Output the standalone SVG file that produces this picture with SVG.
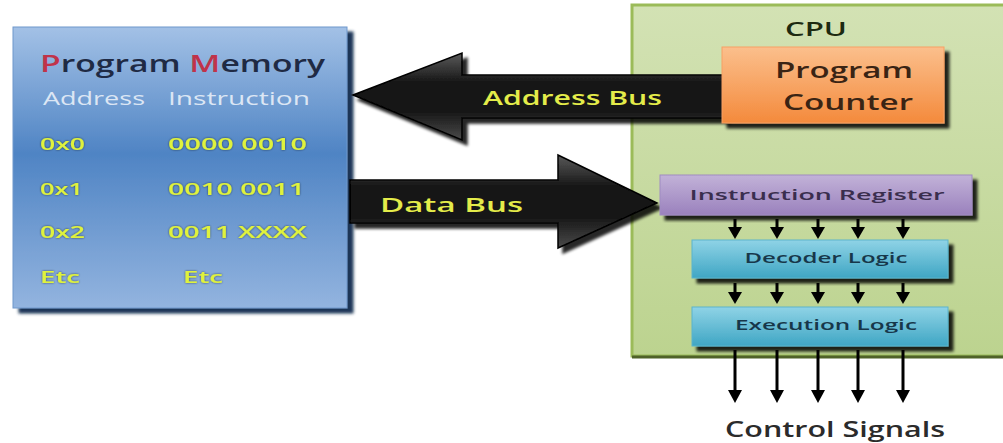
<svg xmlns="http://www.w3.org/2000/svg" width="1003" height="443" viewBox="0 0 1003 443">
  <defs>
    <linearGradient id="memFill" x1="0" y1="0" x2="0" y2="1">
      <stop offset="0" stop-color="#a3c1e6"/>
      <stop offset="0.45" stop-color="#4f84c4"/>
      <stop offset="1" stop-color="#93b4df"/>
    </linearGradient>
    <linearGradient id="cpuFill" x1="0" y1="0" x2="0" y2="1">
      <stop offset="0" stop-color="#d3e2b4"/>
      <stop offset="1" stop-color="#bcd38f"/>
    </linearGradient>
    <linearGradient id="pcFill" x1="0" y1="0" x2="0" y2="1">
      <stop offset="0" stop-color="#fbbf8c"/>
      <stop offset="1" stop-color="#f48a3c"/>
    </linearGradient>
    <linearGradient id="irFill" x1="0" y1="0" x2="0" y2="1">
      <stop offset="0" stop-color="#c2b2d8"/>
      <stop offset="1" stop-color="#9a81bd"/>
    </linearGradient>
    <linearGradient id="logicFill" x1="0" y1="0" x2="0" y2="1">
      <stop offset="0" stop-color="#8fd3e6"/>
      <stop offset="1" stop-color="#3fa6c4"/>
    </linearGradient>
    <linearGradient id="busFill" x1="0" y1="0" x2="0" y2="1">
      <stop offset="0" stop-color="#5a5a5a"/>
      <stop offset="0.35" stop-color="#141414"/>
      <stop offset="0.65" stop-color="#141414"/>
      <stop offset="1" stop-color="#4a4a4a"/>
    </linearGradient>
    <filter id="shadow" x="-10%" y="-10%" width="130%" height="130%">
      <feGaussianBlur in="SourceAlpha" stdDeviation="1.5"/>
      <feOffset dx="5" dy="5" result="off"/>
      <feComponentTransfer><feFuncA type="linear" slope="0.85"/></feComponentTransfer>
      <feMerge><feMergeNode/><feMergeNode in="SourceGraphic"/></feMerge>
    </filter>
    <filter id="navyShadow" x="-10%" y="-10%" width="130%" height="130%">
      <feFlood flood-color="#1c3557"/>
      <feComposite in2="SourceAlpha" operator="in"/>
      <feGaussianBlur stdDeviation="1.5"/>
      <feOffset dx="6" dy="5"/>
      <feMerge><feMergeNode/><feMergeNode in="SourceGraphic"/></feMerge>
    </filter>
    <filter id="glow" x="-10%" y="-30%" width="120%" height="160%">
      <feGaussianBlur in="SourceAlpha" stdDeviation="1.2"/>
      <feComponentTransfer><feFuncA type="linear" slope="0.6"/></feComponentTransfer>
      <feMerge><feMergeNode/><feMergeNode in="SourceGraphic"/></feMerge>
    </filter>
  </defs>
  <style>
    text { font-family: "Open Sans", "Liberation Sans", sans-serif; }
    .mem { fill: #dff23c; font-size: 17px; font-weight: 600; }
    .hdr { fill: #dce6f4; font-size: 18px; }
    .bus { fill: #e4ec4a; font-size: 20px; font-weight: 600; }
    .sig { stroke: #000; stroke-width: 3; fill: none; }
    .tip { fill: #000; }
  </style>

  <!-- program memory -->
  <g id="program-memory">
    <rect x="13" y="27" width="334" height="281" fill="url(#memFill)" stroke="#6f98cc" stroke-width="1" filter="url(#navyShadow)"/>
    <text x="40" y="72" font-size="24" font-weight="600" textLength="285" lengthAdjust="spacingAndGlyphs" fill="#1f2a44"><tspan fill="#c0334a">P</tspan>rogram <tspan fill="#c0334a">M</tspan>emory</text>
    <text class="hdr" x="43" y="105" textLength="102" lengthAdjust="spacingAndGlyphs">Address</text>
    <text class="hdr" x="168" y="105" textLength="142" lengthAdjust="spacingAndGlyphs">Instruction</text>
    <g filter="url(#glow)">
      <text class="mem" x="40" y="150" textLength="45" lengthAdjust="spacingAndGlyphs">0x0</text>
      <text class="mem" x="168" y="150" textLength="139" lengthAdjust="spacingAndGlyphs">0000 0010</text>
      <text class="mem" x="40" y="195" textLength="43" lengthAdjust="spacingAndGlyphs">0x1</text>
      <text class="mem" x="168" y="195" textLength="137" lengthAdjust="spacingAndGlyphs">0010 0011</text>
      <text class="mem" x="40" y="238" textLength="45" lengthAdjust="spacingAndGlyphs">0x2</text>
      <text class="mem" x="168" y="238" textLength="139" lengthAdjust="spacingAndGlyphs">0011 XXXX</text>
      <text class="mem" x="40" y="283" textLength="40" lengthAdjust="spacingAndGlyphs">Etc</text>
      <text class="mem" x="183" y="283" textLength="40" lengthAdjust="spacingAndGlyphs">Etc</text>
    </g>
  </g>

  <!-- CPU container -->
  <g id="cpu">
    <rect x="632" y="5" width="380" height="351" fill="url(#cpuFill)" stroke="#9bbb59" stroke-width="3"/>
    <line x1="632" y1="357" x2="1003" y2="357" stroke="#4f6228" stroke-width="3"/>
    <text x="816" y="36" font-size="19" font-weight="600" text-anchor="middle" fill="#1d2a10" textLength="62" lengthAdjust="spacingAndGlyphs">CPU</text>
  </g>

  <!-- buses -->
  <g id="address-bus">
    <path d="M353,95 L462,53 L462,75 L725,75 L725,118 L462,118 L462,140 Z" fill="url(#busFill)" stroke="#000" stroke-width="1.5" filter="url(#shadow)"/>
    <text class="bus" x="483" y="105" textLength="179" lengthAdjust="spacingAndGlyphs">Address Bus</text>
  </g>
  <g id="data-bus">
    <path d="M350,180 L558,180 L558,155 L657,203 L558,248 L558,223 L350,223 Z" fill="url(#busFill)" stroke="#000" stroke-width="1.5" filter="url(#shadow)"/>
    <text class="bus" x="380" y="212" textLength="143" lengthAdjust="spacingAndGlyphs">Data Bus</text>
  </g>

  <g id="program-counter">
    <rect x="722" y="47" width="222" height="76" fill="url(#pcFill)" stroke="#f7a064" stroke-width="1" filter="url(#shadow)"/>
    <text x="844" y="78" font-size="21" font-weight="600" text-anchor="middle" fill="#3a2414" textLength="138" lengthAdjust="spacingAndGlyphs">Program</text>
    <text x="848" y="110" font-size="21" font-weight="600" text-anchor="middle" fill="#3a2414" textLength="130" lengthAdjust="spacingAndGlyphs">Counter</text>
  </g>

  <g id="instruction-register">
    <rect x="660" y="175" width="312" height="40" fill="url(#irFill)" stroke="#a08cc2" stroke-width="1" filter="url(#shadow)"/>
    <text x="817" y="200" font-size="15" font-weight="600" text-anchor="middle" fill="#3a2e4e" textLength="255" lengthAdjust="spacingAndGlyphs">Instruction Register</text>
  </g>

  <g id="decoder-logic">
    <rect x="692" y="240" width="256" height="38" fill="url(#logicFill)" stroke="#5bb4cc" stroke-width="1" filter="url(#shadow)"/>
    <text x="826" y="263" font-size="14" font-weight="600" text-anchor="middle" fill="#17374a" textLength="163" lengthAdjust="spacingAndGlyphs">Decoder Logic</text>
  </g>

  <g id="execution-logic">
    <rect x="692" y="307" width="256" height="39" fill="url(#logicFill)" stroke="#5bb4cc" stroke-width="1" filter="url(#shadow)"/>
    <text x="826" y="330" font-size="14" font-weight="600" text-anchor="middle" fill="#17374a" textLength="182" lengthAdjust="spacingAndGlyphs">Execution Logic</text>
  </g>

  <!-- signal lines between stages -->
  <g id="connectors">
    <g class="sig">
      <line x1="735" y1="219" x2="735" y2="230"/>
      <line x1="777" y1="219" x2="777" y2="230"/>
      <line x1="818" y1="219" x2="818" y2="230"/>
      <line x1="858" y1="219" x2="858" y2="230"/>
      <line x1="903" y1="219" x2="903" y2="230"/>
      <line x1="735" y1="283" x2="735" y2="294"/>
      <line x1="777" y1="283" x2="777" y2="294"/>
      <line x1="818" y1="283" x2="818" y2="294"/>
      <line x1="858" y1="283" x2="858" y2="294"/>
      <line x1="903" y1="283" x2="903" y2="294"/>
      <line x1="735" y1="350" x2="735" y2="392"/>
      <line x1="777" y1="350" x2="777" y2="392"/>
      <line x1="818" y1="350" x2="818" y2="392"/>
      <line x1="858" y1="350" x2="858" y2="392"/>
      <line x1="903" y1="350" x2="903" y2="392"/>
    </g>
    <g class="tip">
      <path d="M728,227 L742,227 L735,239 Z"/>
      <path d="M770,227 L784,227 L777,239 Z"/>
      <path d="M811,227 L825,227 L818,239 Z"/>
      <path d="M851,227 L865,227 L858,239 Z"/>
      <path d="M896,227 L910,227 L903,239 Z"/>
      <path d="M728,292 L742,292 L735,304 Z"/>
      <path d="M770,292 L784,292 L777,304 Z"/>
      <path d="M811,292 L825,292 L818,304 Z"/>
      <path d="M851,292 L865,292 L858,304 Z"/>
      <path d="M896,292 L910,292 L903,304 Z"/>
      <path d="M728,390 L742,390 L735,403 Z"/>
      <path d="M770,390 L784,390 L777,403 Z"/>
      <path d="M811,390 L825,390 L818,403 Z"/>
      <path d="M851,390 L865,390 L858,403 Z"/>
      <path d="M896,390 L910,390 L903,403 Z"/>
    </g>
  </g>

  <g id="control-signals">
    <text x="835" y="437" font-size="22" font-weight="600" text-anchor="middle" fill="#2b2b2b" textLength="220" lengthAdjust="spacingAndGlyphs">Control Signals</text>
  </g>
</svg>
